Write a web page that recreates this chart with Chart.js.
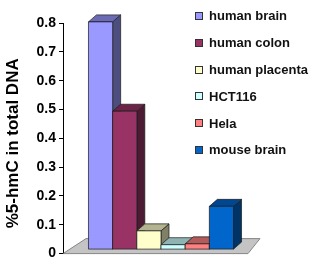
<!DOCTYPE html>
<html>
<head>
<meta charset="utf-8">
<script src="https://cdn.jsdelivr.net/npm/chart.js@4"></script>
<style>
  body { margin: 0; background: #fff; }
  #wrap { position: relative; width: 322px; height: 265px; }
  #legend { position: absolute; left: 195px; top: 2.6px; font: bold 13px "Liberation Sans", Arial, sans-serif; color: #111; }
  .item { height: 26.8px; display: flex; align-items: center; white-space: nowrap; }
  .box { width: 6px; height: 6px; border: 1px solid #333; margin-right: 6px; }
</style>
</head>
<body>
<div id="wrap">
  <canvas id="chart" width="322" height="265"></canvas>
  <div id="legend"></div>
</div>
<script>
// Data
const categories = ['human brain', 'human colon', 'human placenta', 'HCT116', 'Hela', 'mouse brain'];
const values = [0.79, 0.48, 0.065, 0.017, 0.02, 0.15];
const colors = ['#9999FF', '#993366', '#FFFFCC', '#CCFFFF', '#FF8080', '#0066CC'];
const yMin = 0, yMax = 0.8, yStep = 0.1;
const yTitle = '%5-hmC in total DNA';

const fontFamily = '"Liberation Sans", Arial, sans-serif';

// 3D depth offset of the bars
const dx = 8, dy = -7, lift = 4;

function shade(hex, f) {
  const n = parseInt(hex.slice(1), 16);
  const r = Math.round(((n >> 16) & 255) * f);
  const g = Math.round(((n >> 8) & 255) * f);
  const b = Math.round((n & 255) * f);
  return `rgb(${r},${g},${b})`;
}

function poly(ctx, pts, fill) {
  ctx.beginPath();
  ctx.moveTo(pts[0][0], pts[0][1]);
  for (let i = 1; i < pts.length; i++) ctx.lineTo(pts[i][0], pts[i][1]);
  ctx.closePath();
  ctx.fillStyle = fill;
  ctx.fill();
  ctx.stroke();
}

// Draws the gray floor and the 3D columns from the bar elements
const bars3d = {
  id: 'bars3d',
  beforeDatasetsDraw(chart) {
    const { ctx, chartArea: ca } = chart;
    ctx.save();
    ctx.strokeStyle = '#707070';
    ctx.lineWidth = 0.8;
    poly(ctx, [[ca.left, ca.bottom], [ca.left + 23, ca.bottom - 15], [ca.right + 1, ca.bottom - 15], [ca.right - 11, ca.bottom]], '#c4c4c4');
    ctx.restore();
  },
  afterDatasetsDraw(chart) {
    const ctx = chart.ctx;
    ctx.save();
    ctx.strokeStyle = '#1a1a1a';
    ctx.lineWidth = 0.7;
    ctx.lineJoin = 'round';
    chart.data.datasets.forEach((ds, i) => {
      const el = chart.getDatasetMeta(i).data[0];
      const { x, y, base, width } = el.getProps(['x', 'y', 'base', 'width'], true);
      const l = x - width / 2, r = x + width / 2;
      const t = y - lift, b = base - lift;
      poly(ctx, [[r, t], [r + dx, t + dy], [r + dx, b + dy], [r, b]], shade(colors[i], 0.5));
      poly(ctx, [[l, t], [l + dx, t + dy], [r + dx, t + dy], [r, t]], shade(colors[i], 0.7));
      poly(ctx, [[l, t], [r, t], [r, b], [l, b]], colors[i]);
    });
    ctx.restore();
  },
  // y axis title, sits a little below the middle of the axis in the original
  afterDraw(chart) {
    const { ctx, chartArea: ca } = chart;
    ctx.save();
    ctx.translate(13, (ca.top + ca.bottom) / 2 + 5);
    ctx.rotate(-Math.PI / 2);
    ctx.font = `bold 17px ${fontFamily}`;
    ctx.fillStyle = '#000';
    ctx.textAlign = 'center';
    ctx.textBaseline = 'middle';
    ctx.fillText(yTitle, 0, 0);
    ctx.restore();
  }
};

new Chart(document.getElementById('chart'), {
  type: 'bar',
  data: {
    labels: [''],
    datasets: categories.map((name, i) => ({
      label: name,
      data: [values[i]],
      backgroundColor: 'rgba(0,0,0,0)',
      borderWidth: 0
    }))
  },
  options: {
    responsive: false,
    animation: false,
    categoryPercentage: 0.74,
    barPercentage: 1,
    layout: { padding: { left: 0, right: 63, top: 23, bottom: 8 } },
    plugins: { legend: { display: false }, tooltip: { enabled: false } },
    scales: {
      x: { display: false },
      y: {
        min: yMin,
        max: yMax,
        afterFit(scale) { scale.width = 63; },
        ticks: {
          stepSize: yStep,
          padding: 3,
          color: '#000',
          font: { family: fontFamily, size: 14, weight: 'bold' }
        },
        grid: { drawOnChartArea: false, drawTicks: true, tickLength: 4, color: '#000' },
        border: { display: true, color: '#000', width: 1 }
      }
    }
  },
  plugins: [bars3d]
});

// Legend
const legend = document.getElementById('legend');
categories.forEach((name, i) => {
  const item = document.createElement('div');
  item.className = 'item';
  item.innerHTML = `<span class="box" style="background:${colors[i]}"></span>${name}`;
  legend.appendChild(item);
});
</script>
</body>
</html>
